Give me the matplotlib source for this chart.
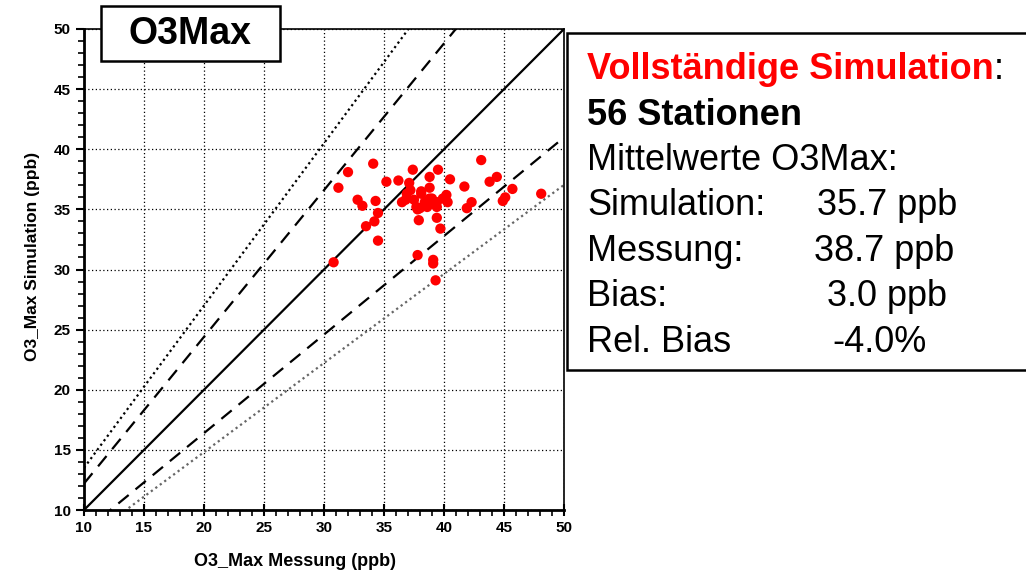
import numpy as np
import matplotlib.pyplot as plt
from matplotlib.patches import Rectangle
from matplotlib.text import Annotation
from matplotlib.ticker import MultipleLocator

plt.rcParams['font.family'] = ['Liberation Sans', 'DejaVu Sans']

# Station values of the daily ozone maximum (ppb)
messung = [30.8, 31.2, 32.0, 34.1, 32.8, 33.2, 34.3, 34.5, 34.2, 33.5,
           34.5, 35.2, 36.2, 37.4, 37.1, 37.2, 36.5, 36.8, 38.1, 38.8,
           39.5, 38.8, 37.7, 38.0, 38.6, 39.0, 39.4, 39.4, 40.2, 40.3,
           40.5, 37.9, 39.4, 39.7, 37.8, 39.1, 39.1, 39.3, 41.7, 42.3,
           41.9, 43.1, 43.8, 44.4, 44.9, 45.1, 45.7, 48.1, 38.1, 38.8,
           37.8, 39.0, 38.4, 37.5, 39.9, 36.9]
simulation = [30.6, 36.8, 38.1, 38.8, 35.8, 35.3, 35.7, 34.7, 34.0, 33.6,
              32.4, 37.3, 37.4, 38.3, 37.2, 36.6, 35.6, 35.8, 36.5, 37.7,
              38.3, 36.8, 35.2, 35.1, 35.2, 35.9, 35.6, 35.2, 36.2, 35.6,
              37.5, 34.1, 34.3, 33.4, 31.2, 30.8, 30.5, 29.1, 36.9, 35.6,
              35.1, 39.1, 37.3, 37.7, 35.7, 36.0, 36.7, 36.3, 36.3, 35.9,
              35.0, 35.5, 35.6, 35.8, 35.9, 36.3]

# Reference lines y = f * x
line_factors = [1.0, 1.22, 1 / 1.22, 1.35, 1 / 1.35]
line_styles = ['-', (0, (6, 4)), (0, (6, 4)), (0, (1, 1.5)), (0, (1, 1.5))]
line_colors = ['black', 'black', 'black', 'black', '#666666']

n_stationen = len(messung)
mittel_sim = 35.7
mittel_mess = 38.7
bias = 3.0
rel_bias = -4.0

fig = plt.figure(figsize=(10.26, 5.76), dpi=100)
ax = fig.add_axes([84 / 1026, 1 - 510 / 576, 480 / 1026, 481 / 576])

xs = np.array([10.0, 50.0])
for f, ls, c in zip(line_factors, line_styles, line_colors):
    ax.plot(xs, f * xs, linestyle=ls, color=c, lw=1.6, zorder=2)

ax.scatter(messung, simulation, s=55, color='#ff0000', edgecolors='none', zorder=3)

ax.set_xlim(10, 50)
ax.set_ylim(10, 50)
ax.xaxis.set_major_locator(MultipleLocator(5))
ax.yaxis.set_major_locator(MultipleLocator(5))
ax.xaxis.set_minor_locator(MultipleLocator(1))
ax.yaxis.set_minor_locator(MultipleLocator(1))
ax.grid(True, which='major', linestyle=(0, (1, 2)), color='black', lw=0.9)
ax.tick_params(which='major', length=6, width=1.5, labelsize=11, direction='out')
ax.tick_params(axis='x', which='major', direction='inout', length=9)
ax.tick_params(which='minor', length=4, width=1.2, direction='out')
for lab in ax.get_xticklabels() + ax.get_yticklabels():
    lab.set_fontweight('bold')
for side in ['left', 'bottom']:
    ax.spines[side].set_linewidth(2)
for side in ['top', 'right']:
    ax.spines[side].set_linewidth(1.2)

ax.set_xlabel('O3_Max Messung (ppb)', fontsize=13, fontweight='bold')
ax.set_ylabel('O3_Max Simulation (ppb)', fontsize=12.5, fontweight='bold')
ax.xaxis.set_label_coords(0.44, -0.09)
ax.yaxis.set_label_coords(-0.092, 0.528)

# title box on top of the plot
fig.patches.append(Rectangle((101 / 1026, 1 - 61 / 576), 179 / 1026, 55 / 576,
                             transform=fig.transFigure, facecolor='white',
                             edgecolor='black', lw=1.8, zorder=5))
fig.text(190 / 1026, 1 - 34 / 576, 'O3Max', fontsize=27, fontweight='bold',
         ha='center', va='center', zorder=6)

# statistics box on the right
fig.patches.append(Rectangle((567 / 1026, 1 - 370 / 576), 470 / 1026, 337 / 576,
                             transform=fig.transFigure, facecolor='white',
                             edgecolor='black', lw=1.8, zorder=1))
fs = 26
x0 = 587 / 1026
t = fig.text(x0, 1 - 79 / 576, 'Vollständige Simulation', fontsize=fs,
             fontweight='bold', color='#ff0000', va='baseline')
fig.add_artist(Annotation(':', xy=(1, 0), xycoords=t, fontsize=fs,
                          va='bottom', ha='left', color='black'))
fig.text(x0, 1 - 125 / 576, f'{n_stationen} Stationen', fontsize=fs,
         fontweight='bold', va='baseline')
fig.text(x0, 1 - 170 / 576, 'Mittelwerte O3Max:', fontsize=fs, va='baseline')
rows = [('Simulation:', f'{mittel_sim:.1f} ppb', 817),
        ('Messung:', f'{mittel_mess:.1f} ppb', 814),
        ('Bias:', f'{bias:.1f} ppb', 827),
        ('Rel. Bias', f'{rel_bias:.1f}%', 832)]
for i, (name, val, vx) in enumerate(rows):
    y = 1 - (215 + 45.7 * i) / 576
    fig.text(x0, y, name, fontsize=fs, va='baseline')
    fig.text(vx / 1026, y, val, fontsize=fs, va='baseline')

fig.savefig('out.png', dpi=100)
